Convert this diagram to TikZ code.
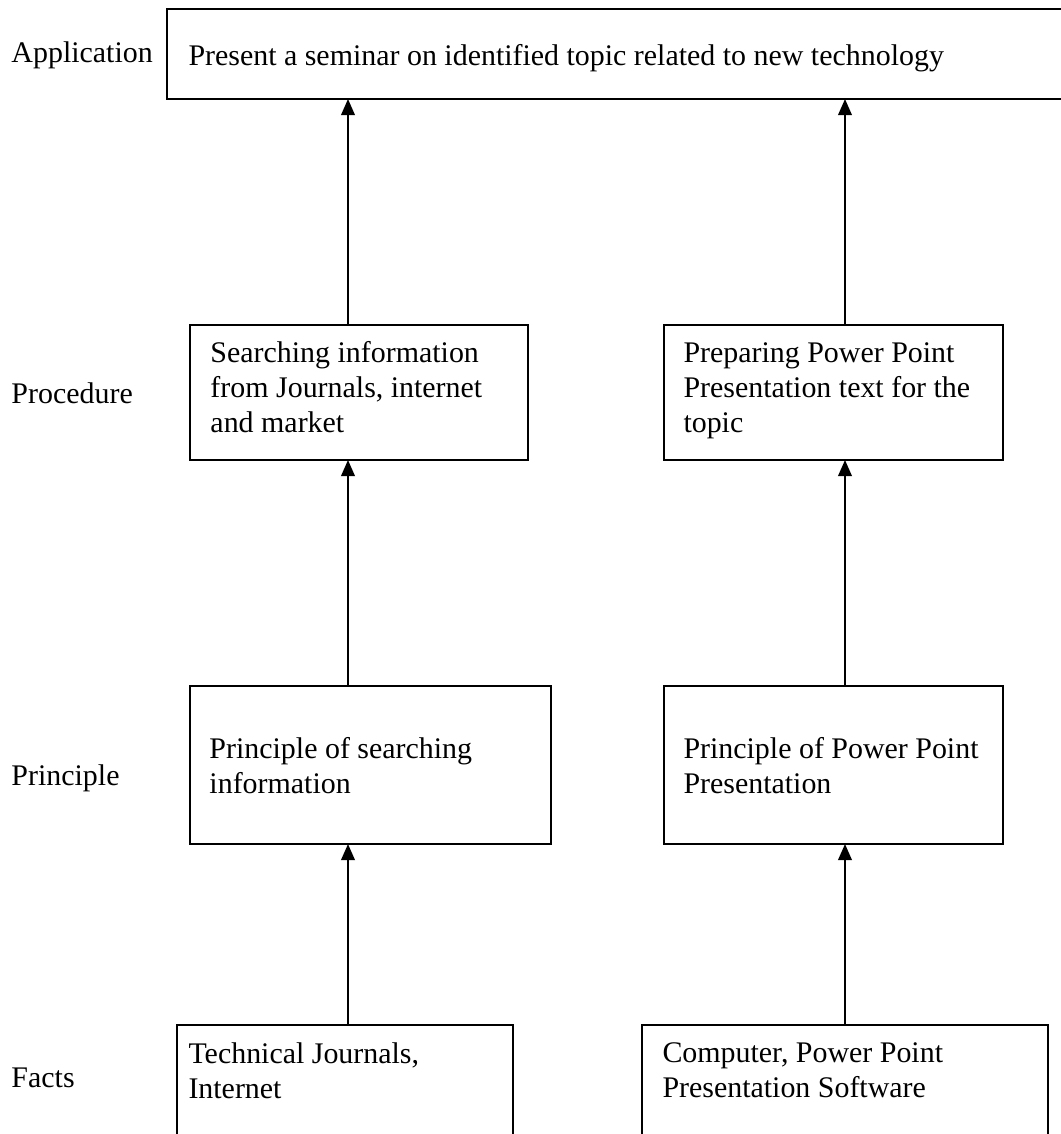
\documentclass[tikz,border=0pt]{standalone}
\usepackage{fontspec}
\setmainfont{Liberation Serif}
\usetikzlibrary{arrows.meta}
\newlength\pxu
\setlength\pxu{0.401pt}

\begin{document}
\begin{tikzpicture}[x = 0.401pt, y = -0.401pt,
    every node/.style = { font = \fontsize{12}{14}\selectfont },
    box/.style = { draw, line width = 0.8pt, anchor = north west, inner sep = 0pt, outer sep = 0pt },
    txt/.style = { align = left, inner sep = 0pt, anchor = base west },
    arr/.style = { line width = 0.8pt, -{Triangle[length = 6.5pt, width = 5.5pt]} }]
    \useasboundingbox (0,0) rectangle (1061,1134);
    \clip (0,0) rectangle (1061,1134);

    % levels
    \node [txt] (lapp)   at (11,62)   { Application };
    \node [txt] (lproc)  at (11,403)  { Procedure };
    \node [txt] (lprinc) at (11,785)  { Principle };
    \node [txt] (lfact)  at (11,1087) { Facts };

    % boxes
    \node [box, minimum width = 920\pxu, minimum height = 90\pxu]  (app)    at (167,9)   {};
    \node [box, minimum width = 338\pxu, minimum height = 135\pxu] (proc1)  at (190,325) {};
    \node [box, minimum width = 339\pxu, minimum height = 135\pxu] (proc2)  at (664,325) {};
    \node [box, minimum width = 361\pxu, minimum height = 158\pxu] (princ1) at (190,686) {};
    \node [box, minimum width = 339\pxu, minimum height = 158\pxu] (princ2) at (664,686) {};
    \node [box, minimum width = 336\pxu, minimum height = 160\pxu] (fact1)  at (177,1025) {};
    \node [box, minimum width = 406\pxu, minimum height = 160\pxu] (fact2)  at (642,1025) {};

    % box texts (base = last line)
    \node [txt] (apptxt)    at ([shift={(21,56)}]app.north west)     { Present a seminar on identified topic related to new technology };
    \node [txt] (proc1txt)  at ([shift={(20,107)}]proc1.north west)  { Searching information \\ from Journals, internet \\ and market };
    \node [txt] (proc2txt)  at ([shift={(19,107)}]proc2.north west)  { Preparing Power Point \\ Presentation text for the \\ topic };
    \node [txt] (princ1txt) at ([shift={(19,107)}]princ1.north west) { Principle of searching \\ information };
    \node [txt] (princ2txt) at ([shift={(19,107)}]princ2.north west) { Principle of Power Point \\ Presentation };
    \node [txt] (fact1txt)  at ([shift={(11,73)}]fact1.north west)   { Technical Journals, \\ Internet };
    \node [txt] (fact2txt)  at ([shift={(20,72)}]fact2.north west)   { Computer, Power Point \\ Presentation Software };

    % arrows
    \coordinate (colL) at (348,0);
    \coordinate (colR) at (845,0);
    \foreach \from/\to/\col in {fact1/princ1/colL, princ1/proc1/colL, proc1/app/colL,
                                fact2/princ2/colR, princ2/proc2/colR, proc2/app/colR}
        \draw [arr] (\from.north -| \col) -- (\to.south -| \col);

\end{tikzpicture}
\end{document}
